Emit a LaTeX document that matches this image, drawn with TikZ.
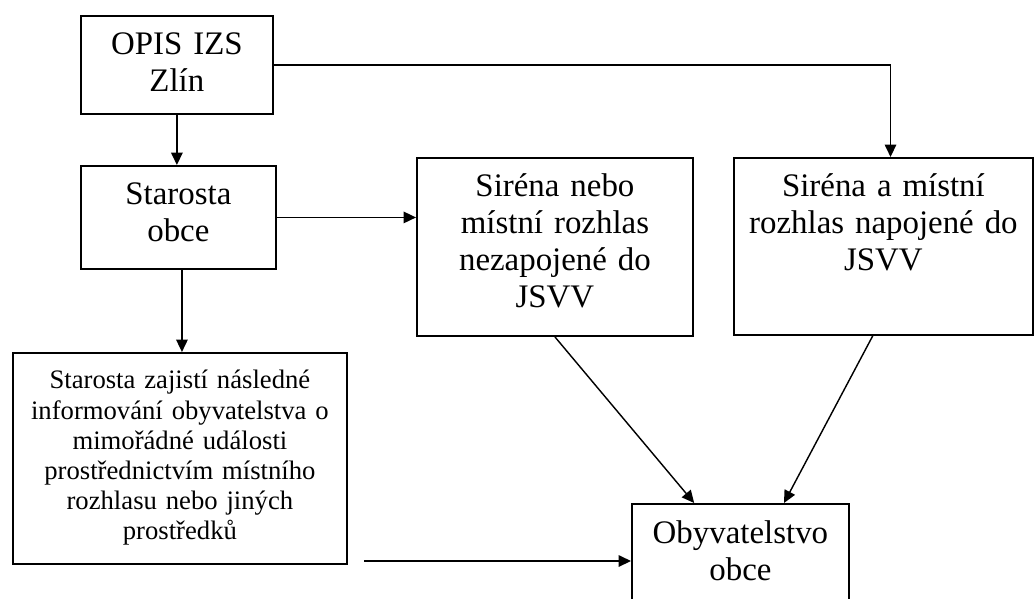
\documentclass[tikz,border=0pt]{standalone}
\usepackage{fontspec}
\setmainfont{Liberation Serif}
\usepackage{tikz}
\usetikzlibrary{arrows.meta, positioning}

\begin{document}
\begin{tikzpicture}[
        x=0.5625pt, y=-0.5625pt,
        >={Triangle[length=7pt, width=6.5pt]},
        block/.style={draw, line width=1pt, anchor=north west, inner sep=0pt, align=center, text height=21.6pt, font=\fontsize{18.5}{20.8}\selectfont},
        note/.style={block, text height=20.3pt, font=\fontsize{15}{16.9}\selectfont},
        link/.style={->, line width=0.8pt}
    ]
        \useasboundingbox (0,0) rectangle (1035,598);

        \node[block, text width=108pt, text depth=33.6pt] (opis) at (80,15) {OPIS IZS\\Zlín};
        \node[block, text width=109.7pt, text depth=36.4pt] (starosta) at (80,165) {Starosta\\obce};
        \node[note, text width=187.9pt, text depth=98.4pt] (zajisti) at (12,352) {Starosta zajistí následné\\informování obyvatelstva o\\mimořádné události\\prostřednictvím místního\\rozhlasu nebo jiných\\prostředků};
        \node[block, text width=155.3pt, text depth=78.6pt] (nebo) at (416,157) {Siréna nebo\\místní rozhlas\\nezapojené do\\JSVV};
        \node[block, text width=168.2pt, text depth=78pt] (napojene) at (733,157) {Siréna a místní\\rozhlas napojené do\\JSVV};
        \node[block, text width=122.1pt, text height=22.5pt, text depth=35.4pt] (obyv) at (631,503) {Obyvatelstvo\\obce};
        \coordinate (volny) at (364,561);

        \draw[link] (opis.south) -- (opis.south |- starosta.north);
        \draw[link] (opis.east) -| ([xshift=4pt]napojene.north);
        \draw[link] (starosta.east) -- (starosta.east -| nebo.west);
        \draw[link] ([xshift=2pt]starosta.south) -- ([xshift=2pt]starosta.south |- zajisti.north);
        \draw[link] (nebo.south) -- ([xshift=-26pt]obyv.north);
        \draw[link] ([xshift=-6pt]napojene.south) -- ([xshift=24.5pt]obyv.north);
        \draw[link] (volny) -- (volny -| obyv.west);
    \end{tikzpicture}
\end{document}
